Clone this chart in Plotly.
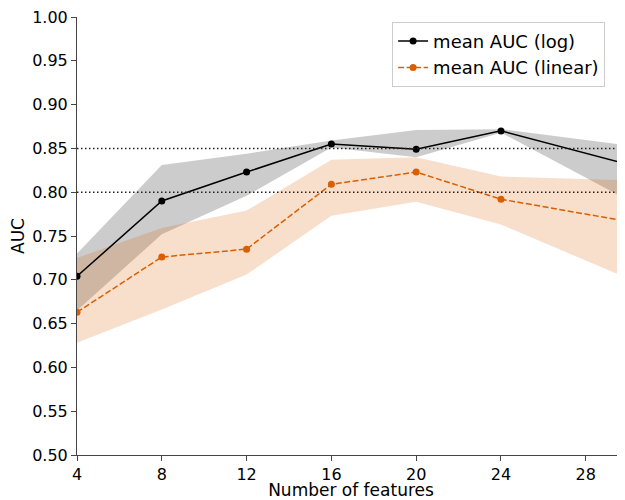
import plotly.graph_objects as go

# Data
features = [4, 8, 12, 16, 20, 24, 32]
log_mean = [0.704, 0.790, 0.823, 0.855, 0.849, 0.870, 0.819]
log_upper = [0.730, 0.831, 0.844, 0.859, 0.871, 0.872, 0.847]
log_lower = [0.665, 0.752, 0.796, 0.851, 0.840, 0.868, 0.765]

lin_mean = [0.663, 0.726, 0.735, 0.809, 0.823, 0.792, 0.758]
lin_upper = [0.725, 0.759, 0.779, 0.837, 0.840, 0.818, 0.812]
lin_lower = [0.628, 0.666, 0.706, 0.773, 0.789, 0.763, 0.681]

x_ticks = [4, 8, 12, 16, 20, 24, 28]
y_ticks = [0.50, 0.55, 0.60, 0.65, 0.70, 0.75, 0.80, 0.85, 0.90, 0.95, 1.00]
ref_lines = [0.85, 0.80]

ORANGE = "#d95f02"
FONT = "DejaVu Sans"

fig = go.Figure()

# bands
fig.add_trace(go.Scatter(
    x=features + features[::-1], y=log_upper + log_lower[::-1],
    fill="toself", fillcolor="rgba(0,0,0,0.2)", line=dict(width=0),
    hoverinfo="skip", showlegend=False, mode="lines"))
fig.add_trace(go.Scatter(
    x=features + features[::-1], y=lin_upper + lin_lower[::-1],
    fill="toself", fillcolor="rgba(217,95,2,0.2)", line=dict(width=0),
    hoverinfo="skip", showlegend=False, mode="lines"))

# reference dotted lines
for v in ref_lines:
    fig.add_shape(type="line", xref="paper", yref="y", x0=0, x1=1, y0=v, y1=v,
                  line=dict(color="#222222", width=1.5, dash="1.5px,2.5px"))

fig.add_trace(go.Scatter(
    x=features, y=log_mean, mode="lines+markers", name="mean AUC (log)",
    line=dict(color="black", width=1.5),
    marker=dict(color="black", size=7)))
fig.add_trace(go.Scatter(
    x=features, y=lin_mean, mode="lines+markers", name="mean AUC (linear)",
    line=dict(color=ORANGE, width=1.5, dash="6px,2.5px"),
    marker=dict(color=ORANGE, size=7)))

fig.update_layout(
    width=617, height=492,
    margin=dict(l=69, r=0, t=9, b=45),
    plot_bgcolor="white", paper_bgcolor="white",
    font=dict(family=FONT, size=16, color="black"),
    showlegend=True,
    legend=dict(
        x=0.575, y=0.989, xanchor="left", yanchor="top",
        bgcolor="rgba(255,255,255,0.8)", bordercolor="#cccccc", borderwidth=1,
        font=dict(family=FONT, size=18), tracegroupgap=0,
    ),
)
fig.update_xaxes(
    range=[4, 29.85], tickvals=x_ticks, ticktext=[str(t) for t in x_ticks],
    showgrid=False, zeroline=False, showline=True, linecolor="#444444", linewidth=1,
    ticks="outside", ticklen=5, tickcolor="#444444", ticklabeloverflow="allow",
    title=dict(text="Number of features", font=dict(size=17), standoff=3),
    tickfont=dict(size=16),
)
fig.update_yaxes(
    range=[0.5, 1.0], tickvals=y_ticks, ticktext=[f"{t:.2f}" for t in y_ticks],
    showgrid=False, zeroline=False, showline=True, linecolor="#444444", linewidth=1,
    ticks="outside", ticklen=5, tickcolor="#444444", ticklabeloverflow="allow",
    title=dict(text="AUC", font=dict(size=17), standoff=4),
    tickfont=dict(size=16),
)

fig.write_html("out.html")
